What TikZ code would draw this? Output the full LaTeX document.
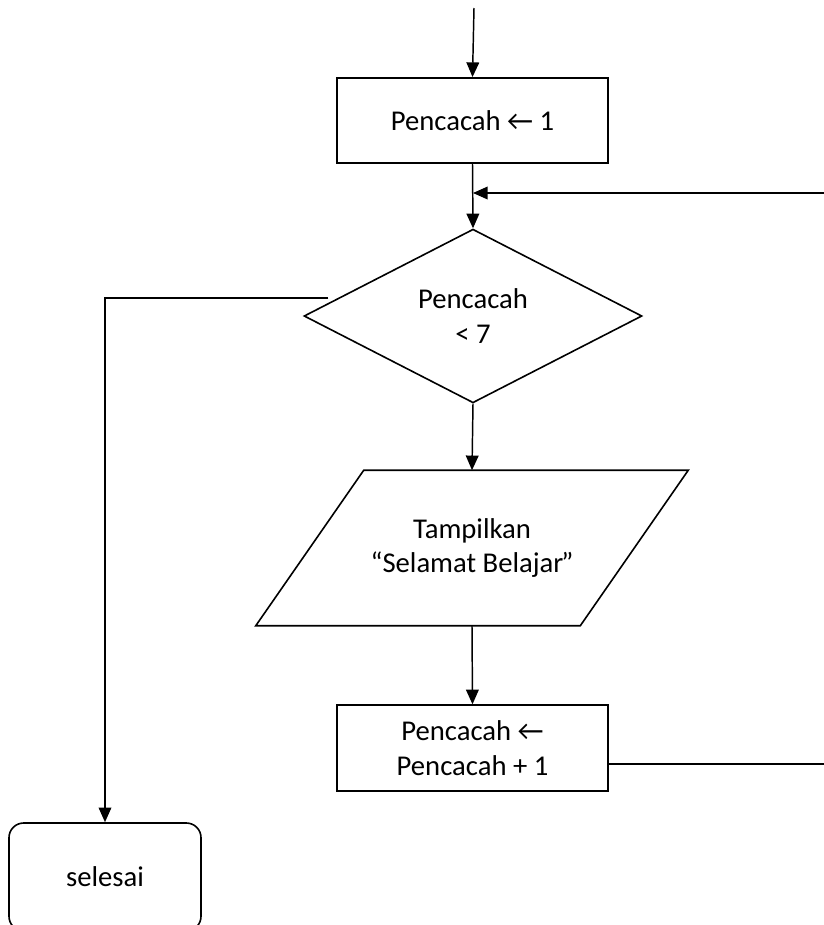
\documentclass[tikz,border=0pt]{standalone}
\usepackage{fontspec}
\setmainfont{Carlito}
\usetikzlibrary{shapes.geometric,arrows.meta,calc}

\tikzset{
  flowline/.style={line width=1.1pt, line join=miter},
  flowarrow/.style={flowline, -{Triangle[length=11pt,width=9.5pt]}},
  procbox/.style={draw, line width=1.2pt, rectangle, minimum width=203.25pt,
    minimum height=64pt, inner sep=0pt, align=center},
  decision/.style={draw, line width=1.2pt, diamond, minimum width=253.5pt,
    minimum height=130.3pt, inner sep=0pt, align=center},
  iohold/.style={rectangle, minimum width=243pt, minimum height=116.25pt,
    inner sep=0pt, align=center},
  terminal/.style={draw, line width=1.2pt, rectangle, rounded corners=11pt,
    minimum width=144pt, minimum height=81pt, inner sep=0pt, align=center},
  every node/.style={font=\fontsize{21.5pt}{26pt}\selectfont}
}

\begin{document}
\begin{tikzpicture}[x=0.75pt,y=-0.75pt]
  \useasboundingbox (0,0) rectangle (824,925);
  \clip (0,0) rectangle (824,925);

  % flowchart nodes
  \node[procbox] (init) at (472.5,120.5) {Pencacah ← 1};
  \node[decision] (test) at (473,316) {Pencacah\\{<} 7};
  \node[iohold] (show) at (472,548) {Tampilkan\\“Selamat Belajar\kern-1.5pt”};
  \draw[line width=1.2pt, line join=miter]
    ([xshift=40.5pt]show.north west) -- ([xshift=40.5pt]show.north east)
    -- ([xshift=-40.5pt]show.south east) -- ([xshift=-40.5pt]show.south west) -- cycle;
  \node[procbox, minimum height=64.3pt] (incr) at (472.5,748)
    {Pencacah ←\\Pencacah + 1};
  \node[terminal] (done) at (105,877) {selesai};

  % free ends of connectors
  \coordinate (entry) at (474,8);
  \coordinate (loopin) at (824,193);
  \coordinate (loopout) at (824,764);
  \coordinate (exitpt) at ($(test.north)!0.793!(test.west)+(-10,0)$);

  % connectors
  \draw[flowarrow] (entry) -- (init.north);
  \draw[flowarrow] (init.south) -- (test.north);
  \draw[flowarrow] (loopin) -- (loopin -| test.north);
  \draw[flowarrow] (test.south) -- (show.north);
  \draw[flowarrow] (show.south) -- (incr.north);
  \draw[flowline] (incr.east |- loopout) -- (loopout);
  \draw[flowarrow] (exitpt) -| (done.north);
\end{tikzpicture}
\end{document}
